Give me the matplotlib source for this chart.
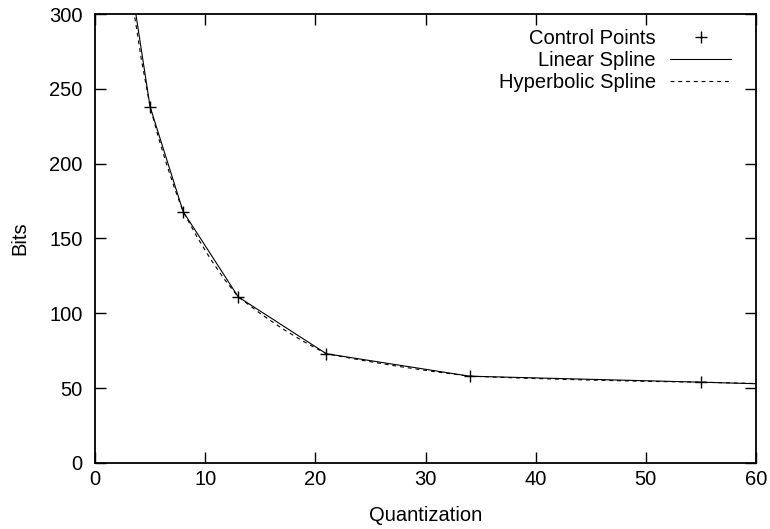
import matplotlib.pyplot as plt

plt.rcParams['font.family'] = ['Liberation Sans', 'DejaVu Sans']

# control points (quantization, bits)
ctrl_q = [3, 5, 8, 13, 21, 34, 55, 89]
ctrl_bits = [334, 238, 168, 111, 73, 58, 54, 47]

# hyperbolic spline
hyp_q = [3.4, 4.2, 5, 5.75, 6.5, 7.25, 8, 9.25, 10.5, 11.75, 13, 15, 17, 19,
         21, 24.25, 27.5, 30.75, 34, 39.25, 44.5, 49.75, 55, 60]
hyp_bits = [308, 270, 238, 217.8, 199.5, 183, 168, 151.2, 136.1, 122.7, 111,
            99.9, 89.8, 80.9, 73, 68.6, 64.6, 61.1, 58, 56.6, 55.5, 54.6, 54, 53.1]

x_ticks = [0, 10, 20, 30, 40, 50, 60]
y_ticks = [0, 50, 100, 150, 200, 250, 300]

fig = plt.figure(figsize=(7.70, 5.29), dpi=100)
ax = fig.add_axes([95 / 770, 1 - 463 / 529, 661 / 770, 449 / 529])

ax.plot(ctrl_q, ctrl_bits, ls='none', marker='+', ms=8, mew=1, color='k',
        label='Control Points')
ax.plot(ctrl_q, ctrl_bits, '-', lw=0.8, color='k', label='Linear Spline')
ax.plot(hyp_q, hyp_bits, lw=0.8, color='k', ls=(0, (3.5, 3.5)),
        label='Hyperbolic Spline')

ax.set_xlim(0, 60)
ax.set_ylim(0, 300)
ax.set_xticks(x_ticks)
ax.set_yticks(y_ticks)
ax.tick_params(direction='in', length=8, width=1, top=True, right=True,
               labelsize=14.5)
ax.tick_params(axis='x', pad=5)
ax.tick_params(axis='y', pad=9)
for s in ax.spines.values():
    s.set_linewidth(1.3)

ax.set_xlabel('Quantization', fontsize=14.5, labelpad=12)
ax.set_ylabel('Bits', fontsize=14.5, labelpad=14)

ax.legend(loc='upper right', bbox_to_anchor=(0.962, 0.966), frameon=False,
          markerfirst=False, fontsize=14.5, borderpad=0, borderaxespad=0,
          labelspacing=0.15, handlelength=3.0, handletextpad=0.73)

plt.savefig('out.png', dpi=100)
plt.close()
